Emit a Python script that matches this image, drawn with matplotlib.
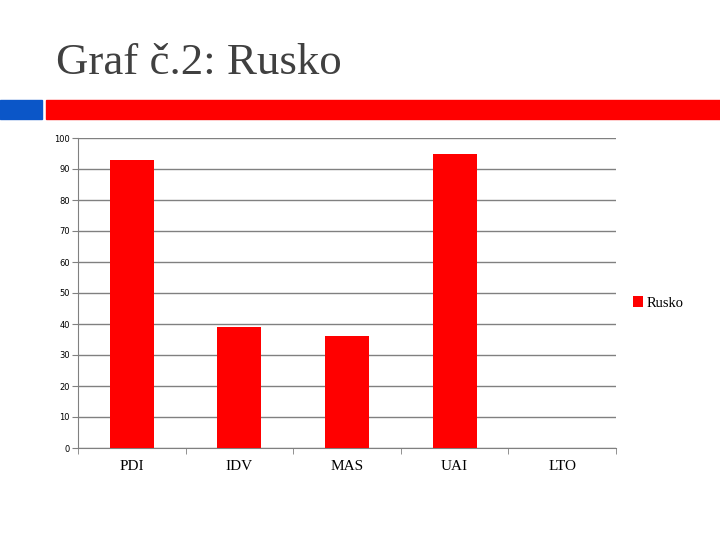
import matplotlib
matplotlib.use('Agg')
import matplotlib.pyplot as plt
import numpy as np
from matplotlib.patches import Rectangle

categories = ['PDI', 'IDV', 'MAS', 'UAI', 'LTO']
rusko = [93, 39, 36, 95, 0]
yticks = [0, 10, 20, 30, 40, 50, 60, 70, 80, 90, 100]

fig = plt.figure(figsize=(7.2, 5.4), dpi=100)

# title and decorative bars
fig.text(56/720, 1-74/540, 'Graf č.2: Rusko', family='Liberation Serif',
         fontsize=32.3, color='#404040', va='baseline', ha='left')
fig.patches.append(Rectangle((0, 1-119/540), 42/720, 19/540,
                             transform=fig.transFigure, color='#0b56c8', zorder=0))
fig.patches.append(Rectangle((46/720, 1-119/540), 1-46/720, 19/540,
                             transform=fig.transFigure, color='#ff0000', zorder=0))

ax = fig.add_axes([78/720, 1-448/540, (616-78)/720, (448-138)/540])
x = np.arange(len(categories))
bars = ax.bar(x, rusko, width=0.41, color='#ff0000', label='Rusko', zorder=3)

ax.set_xlim(-0.5, len(categories)-0.5)
ax.set_ylim(0, 100)
ax.set_yticks(yticks)
ax.set_yticklabels([str(t) for t in yticks], fontsize=6, family='DejaVu Sans')
ax.yaxis.grid(True, color='#808080', linewidth=1)
ax.set_axisbelow(True)

ax.set_xticks(x)
ax.set_xticklabels(categories, family='Liberation Serif', fontsize=11)
ax.set_xticks(np.arange(-0.5, len(categories)), minor=True)
ax.tick_params(axis='x', which='major', length=0, pad=9)
ax.tick_params(axis='x', which='minor', length=4, color='#808080')
ax.tick_params(axis='y', length=4, color='#808080', pad=2)

for s in ['top', 'right']:
    ax.spines[s].set_visible(False)
for s in ['left', 'bottom']:
    ax.spines[s].set_color('#808080')

fig.legend(handles=[bars], labels=['Rusko'], loc='center left',
           bbox_to_anchor=(620/720, 1-303/540), frameon=False,
           prop={'family': 'Liberation Serif', 'size': 10.5},
           handlelength=0.7, handleheight=0.7, handletextpad=0.25)

fig.savefig('out.png', dpi=100)
